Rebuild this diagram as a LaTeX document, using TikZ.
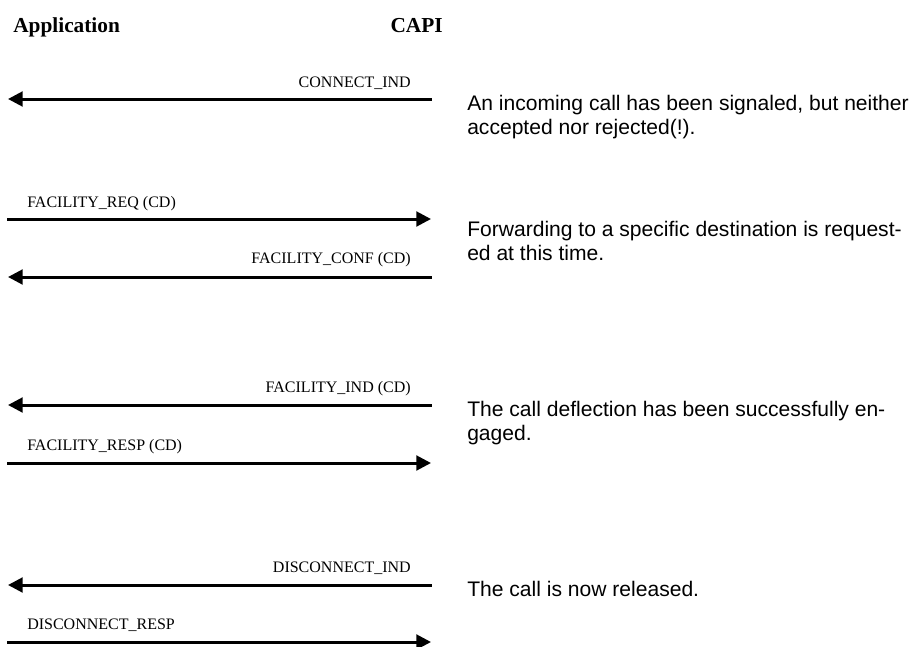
\documentclass[tikz,border=0pt]{standalone}
\usepackage{fontspec}
\setmainfont{Liberation Serif}
\setsansfont{Liberation Sans}
\usetikzlibrary{arrows.meta,positioning}

\begin{document}
\begin{tikzpicture}[x=0.75pt,y=-0.75pt,>={Triangle[length=11pt,width=11pt]},
  msg/.style={line width=2.25pt},
  lbl/.style={inner sep=0pt,font=\fontsize{12}{14}\selectfont},
  head/.style={inner sep=0pt,font=\fontsize{16}{19}\selectfont\bfseries},
  note/.style={inner sep=0pt,align=left,anchor=base west,font=\sffamily\fontsize{15.8}{17.6}\selectfont}]
\useasboundingbox (0,0) rectangle (916,646);
\node (app) [head,anchor=base west] at (13,32) {Application};
\node (capi) [head,anchor=base east] at (443,32) {CAPI};
% end points of the messages
\coordinate (a1) at (8,99);  \coordinate (c1) at (432,99);
\coordinate (a2) at (7,219); \coordinate (c2) at (431,219);
\coordinate (a3) at (8,277); \coordinate (c3) at (432,277);
\coordinate (a4) at (8,405); \coordinate (c4) at (432,405);
\coordinate (a5) at (7,463); \coordinate (c5) at (431,463);
\coordinate (a6) at (8,585); \coordinate (c6) at (432,585);
\coordinate (a7) at (7,642); \coordinate (c7) at (431,642);
\draw[msg,<-] (a1) -- (c1);
\draw[msg,->] (a2) -- (c2);
\draw[msg,<-] (a3) -- (c3);
\draw[msg,<-] (a4) -- (c4);
\draw[msg,->] (a5) -- (c5);
\draw[msg,<-] (a6) -- (c6);
\draw[msg,->] (a7) -- (c7);
\node (connind) [lbl,anchor=base east] at (411,87) {CONNECT\_IND};
\node (facreq) [lbl,anchor=base west] at (27,207) {FACILITY\_REQ (CD)};
\node (facconf) [lbl,anchor=base east] at (411,263) {FACILITY\_CONF (CD)};
\node (facind) [lbl,anchor=base east] at (411,392) {FACILITY\_IND (CD)};
\node (facresp) [lbl,anchor=base west] at (27,450) {FACILITY\_RESP (CD)};
\node (discind) [lbl,anchor=base east] at (411,572) {DISCONNECT\_IND};
\node (discresp) [lbl,anchor=base west] at (27,629) {DISCONNECT\_RESP};
% comments on the right (base = last line)
\node (note1) [note] at (467,134) {An incoming call has been signaled, but neither\\accepted nor rejected(!).};
\node (note2) [note] at (467,260) {Forwarding to a specific destination is request-\\ed at this time.};
\node (note3) [note] at (467,440) {The call deflection has been successfully en-\\gaged.};
\node (note4) [note] at (467,596) {The call is now released.};
\end{tikzpicture}
\end{document}
